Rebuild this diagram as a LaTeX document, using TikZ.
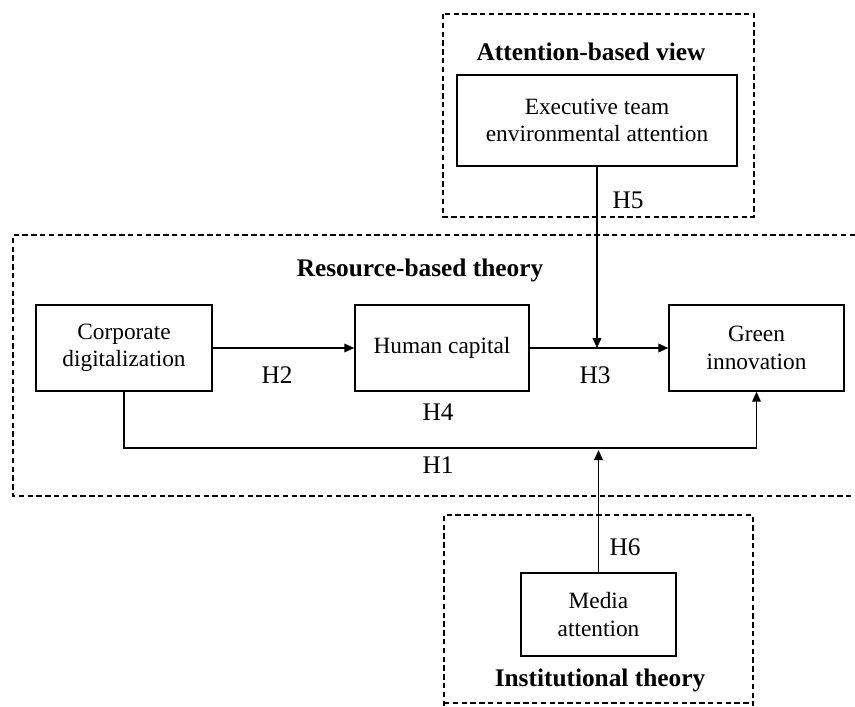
\documentclass[tikz,border=0pt]{standalone}
\usepackage{amsmath}
\usepackage{fontspec}
\setmainfont{Liberation Serif}
\usepackage{tikz}
\usetikzlibrary{arrows.meta}

\tikzset{
  var/.style={draw, line width=1.1pt, align=center, font=\fontsize{17.5}{20.5}\selectfont, inner sep=0pt},
  frame/.style={line width=1pt, dash pattern=on 4pt off 2.6pt},
  theory/.style={font=\fontsize{19}{22}\selectfont\bfseries},
  hyp/.style={font=\fontsize{19}{22}\selectfont},
}

\begin{document}
\begin{tikzpicture}[x=0.75pt,y=0.75pt,yscale=-1,xscale=1,>={Triangle[length=7.5pt,width=6.5pt]}]
              \useasboundingbox (0,0) rectangle (855,706);
              % theory frames
              \draw[frame]  (443,14) rectangle (754,217) ;
              \draw[frame]  (855,235) -- (13,235) -- (13,496) -- (855,496) ;
              \draw[frame]  (444,706) -- (444,515) -- (753,515) -- (753,706) ;
              \draw[frame]  (444,703) -- (753,703) ;
              \node[theory] (abv) at (591,52) {Attention-based view};
              \node[theory] (rbt) at (420,270) {Resource-based theory};
              \node[theory] (it) at (600,680) {Institutional theory};
              % variables
              \node[var, minimum width=132pt, minimum height=64.5pt] (corp) at (124,348) {Corporate\\digitalization};
              \node[var, minimum width=130.5pt, minimum height=64.5pt] (hc) at (442,348) {Human capital};
              \node[var, minimum width=131.25pt, minimum height=64.5pt] (gi) at (756.5,348) {Green\\innovation};
              \node[var, minimum width=210pt, minimum height=68.25pt] (exec) at (597,120.5) {Executive team\\environmental attention};
              \node[var, minimum width=116.25pt, minimum height=62.25pt] (media) at (598.5,614.5) {Media\\attention};
              \coordinate (m3) at (exec.south |- gi.west);
              \coordinate (m1) at (media.north |- 0,450);
              % paths
              \draw[->, line width=1.1pt]    (corp.east) -- (hc.west) ;
              \draw[->, line width=1.1pt]    (hc.east) -- (gi.west) ;
              \draw[->, line width=1.1pt]    (exec.south) -- (m3) ;
              \draw[->, line width=1.1pt]    (corp.south) -- (corp.south |- 0,448) -| (gi.south) ;
              \draw[->, line width=1.1pt]    (media.north) -- (m1) ;
              \node[hyp] (h1) at (438,465) {H1};
              \node[hyp] (h2) at (277,375) {H2};
              \node[hyp] (h3) at (595,375) {H3};
              \node[hyp] (h4) at (438,412) {H4};
              \node[hyp] (h5) at (628,200) {H5};
              \node[hyp] (h6) at (625,547) {H6};
            \end{tikzpicture}
\end{document}
